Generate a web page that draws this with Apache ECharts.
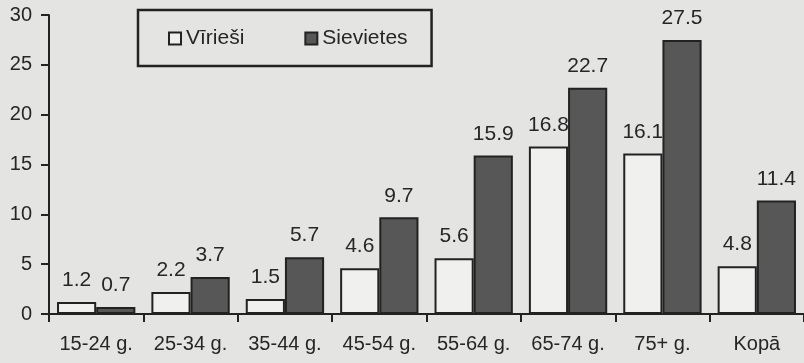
<!DOCTYPE html>
<html>
<head>
<meta charset="utf-8">
<script src="https://cdn.jsdelivr.net/npm/echarts@6/dist/echarts.min.js"></script>
<style>
html,body{margin:0;padding:0;background:#e4e4e2;}
#c{width:804px;height:363px;}
</style>
</head>
<body>
<div id="c"></div>
<script>
const categories = ['15-24 g.', '25-34 g.', '35-44 g.', '45-54 g.', '55-64 g.', '65-74 g.', '75+ g.', 'Kopā'];
const men = [1.2, 2.2, 1.5, 4.6, 5.6, 16.8, 16.1, 4.8];
const women = [0.7, 3.7, 5.7, 9.7, 15.9, 22.7, 27.5, 11.4];
const seriesNames = ['Vīrieši', 'Sievietes'];

const font = 'Liberation Sans, Arial, sans-serif';
const ink = '#262626';
const chart = echarts.init(document.getElementById('c'));
const labelCfg = {
  show: true, position: 'top', distance: 11,
  fontFamily: font, fontSize: 21, color: ink
};
chart.setOption({
  backgroundColor: '#e4e4e2',
  animation: false,
  grid: { left: 49, top: 15, bottom: 49, width: 757, containLabel: false },
  legend: {
    left: 138, top: 10,
    padding: [18, 24, 17, 30],
    borderColor: '#222', borderWidth: 2.5,
    itemWidth: 12, itemHeight: 12, itemGap: 60,
    icon: 'rect',
    itemStyle: { borderColor: '#222', borderWidth: 2 },
    textStyle: { fontFamily: font, fontSize: 21, color: ink },
    data: seriesNames
  },
  xAxis: {
    type: 'category',
    data: categories,
    axisLine: { lineStyle: { color: '#222', width: 2 } },
    axisTick: { show: true, length: 8, alignWithLabel: false, lineStyle: { color: '#222', width: 2 } },
    axisLabel: { fontFamily: font, fontSize: 20, color: ink, margin: 20, interval: 0 }
  },
  yAxis: {
    type: 'value', min: 0, max: 30, interval: 5,
    splitLine: { show: false },
    axisLine: { show: true, lineStyle: { color: '#222', width: 2 } },
    axisTick: { show: true, length: 8, lineStyle: { color: '#222', width: 2 } },
    axisLabel: { fontFamily: font, fontSize: 20, color: ink, margin: 17 }
  },
  series: [
    {
      name: seriesNames[0], type: 'bar', data: men, z: 2,
      barGap: '0%', barCategoryGap: '17%',
      itemStyle: { color: '#f0f0ee', borderColor: '#222', borderWidth: 2 },
      label: labelCfg
    },
    {
      name: seriesNames[1], type: 'bar', data: women, z: 3,
      barGap: '0%', barCategoryGap: '17%',
      itemStyle: { color: '#575757', borderColor: '#222', borderWidth: 2 },
      label: labelCfg
    }
  ]
});
</script>
</body>
</html>
